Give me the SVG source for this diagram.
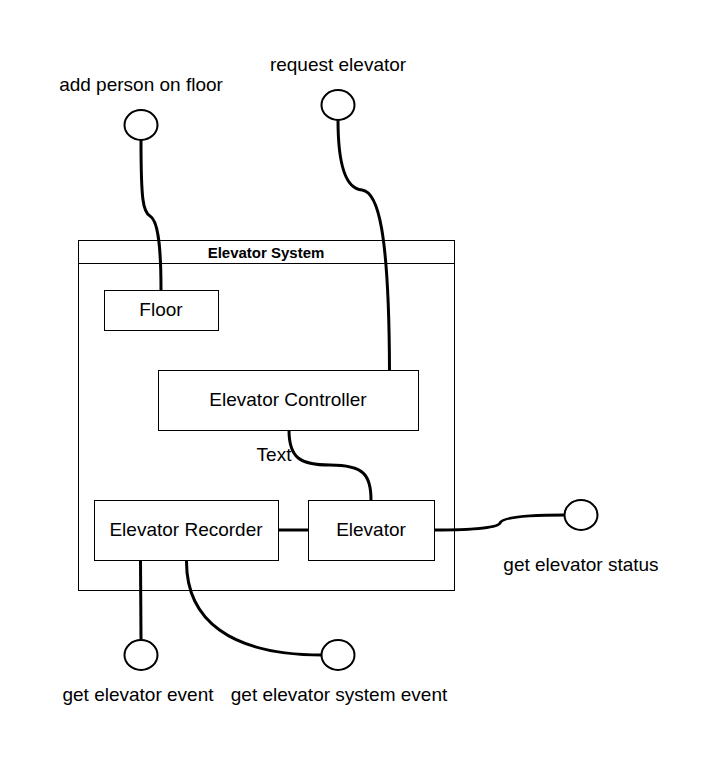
<svg xmlns="http://www.w3.org/2000/svg" width="716" height="761" viewBox="0 0 716 761">
<style>
.box{fill:#fff;stroke:#000;stroke-width:1}
.iface{fill:#fff;stroke:#000;stroke-width:2}
.conn{fill:none;stroke:#000;stroke-width:3}
.t{font-family:"Liberation Sans",Arial,sans-serif;font-size:19px;fill:#000;text-anchor:middle}
.tb{font-family:"Liberation Sans",Arial,sans-serif;font-size:15px;font-weight:bold;fill:#000;text-anchor:middle}
</style>
<rect width="716" height="761" fill="#fff"/>
<g id="system">
<rect class="box" x="78.5" y="240.5" width="376" height="350"/>
<line x1="78.5" y1="263.5" x2="454.5" y2="263.5" stroke="#000" stroke-width="1"/>
<text class="tb" x="266" y="257.5">Elevator System</text>
</g>
<g id="connectors">
<path class="conn" d="M141,140 C141,200 143,212 150,216 C157,220 161,240 161,290"/>
<path class="conn" d="M338,120 C338,170 348,189 362,190 C378,192 389,230 389.5,370"/>
<path class="conn" d="M289,430 C289,458 300,465 330,465 C364,465 371,475 371,500"/>
<path class="conn" d="M278.5,530 L308.5,530"/>
<path class="conn" d="M434.5,530 C470,530 498,528 500,523 C502,517 530,515 565,515"/>
<path class="conn" d="M140.5,560.5 L141,640"/>
<path class="conn" d="M186.5,560.5 C186,620 230,655 322,655"/>
</g>
<g id="floor">
<rect class="box" x="104.5" y="290.5" width="114" height="40"/>
<text class="t" x="161" y="315.5">Floor</text>
</g>
<g id="controller">
<rect class="box" x="158.5" y="370.5" width="260" height="60"/>
<text class="t" x="288" y="405.5">Elevator Controller</text>
</g>
<g id="recorder">
<rect class="box" x="94.5" y="500.5" width="184" height="60"/>
<text class="t" x="186" y="535.5">Elevator Recorder</text>
</g>
<g id="elevator">
<rect class="box" x="308.5" y="500.5" width="126" height="60"/>
<text class="t" x="371" y="535.5">Elevator</text>
</g>
<g id="label-text">
<text class="t" x="274" y="460.5">Text</text>
</g>
<g id="if-add-person">
<ellipse class="iface" cx="141" cy="125" rx="16.5" ry="15"/>
<text class="t" x="141" y="90.5">add person on floor</text>
</g>
<g id="if-request">
<ellipse class="iface" cx="338" cy="105" rx="16.5" ry="15"/>
<text class="t" x="338" y="70.5">request elevator</text>
</g>
<g id="if-status">
<ellipse class="iface" cx="581" cy="515" rx="16.5" ry="15"/>
<text class="t" x="581" y="570.5">get elevator status</text>
</g>
<g id="if-event">
<ellipse class="iface" cx="141" cy="655" rx="16.5" ry="15"/>
<text class="t" x="138" y="700.5">get elevator event</text>
</g>
<g id="if-system-event">
<ellipse class="iface" cx="338" cy="655" rx="16.5" ry="15"/>
<text class="t" x="339" y="700.5">get elevator system event</text>
</g>
</svg>
